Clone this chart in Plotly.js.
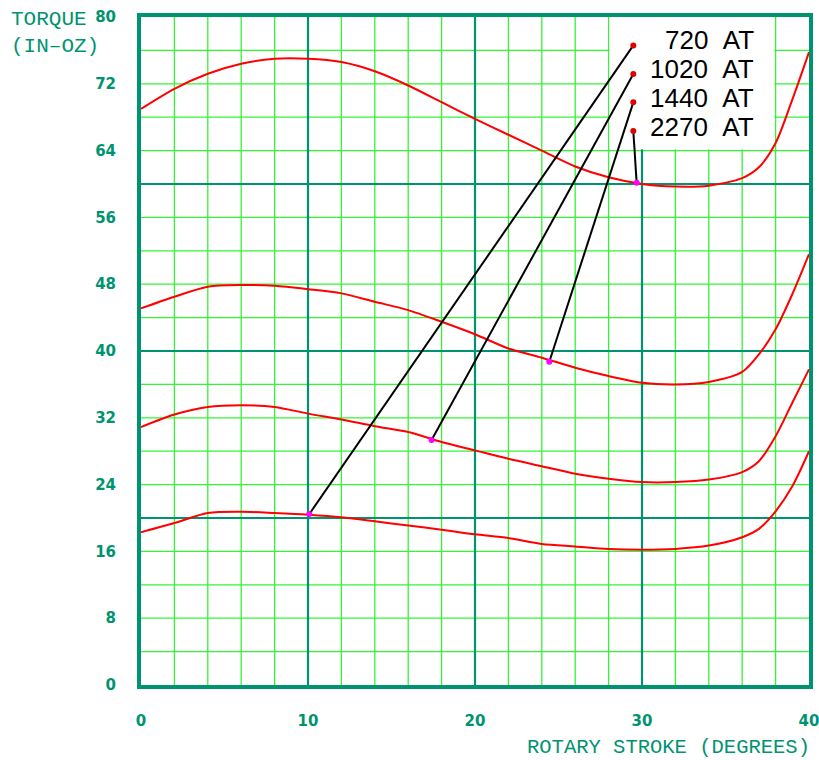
<!DOCTYPE html>
<html>
<head>
<meta charset="utf-8">
<script src="https://cdn.plot.ly/plotly-3.0.1.min.js"></script>
<style>html,body{margin:0;padding:0;background:#fff;}#chart{width:819px;height:760px;}</style>
</head>
<body>
<div id="chart"></div>
<script>
// Rotary stroke (degrees)
const stroke = [0,2,4,6,8,10,12,14,16,18,20,22,24,26,28,30,32,34,36,37,38,39,40];
// Torque (in-oz) for each ampere-turn rating
const torque2270 = [69.0,71.4,73.2,74.4,75.0,75.0,74.6,73.5,71.8,69.8,67.8,65.9,64.0,62.1,60.8,60.0,59.7,59.8,60.7,62.0,64.9,70.1,75.8];
const torque1440 = [45.1,46.5,47.7,47.9,47.8,47.4,46.9,45.9,44.9,43.5,42.0,40.3,39.2,38.0,37.0,36.2,36.0,36.3,37.5,39.6,42.6,46.8,51.6];
const torque1020 = [30.9,32.4,33.3,33.5,33.3,32.5,31.8,31.0,30.3,29.1,28.1,27.1,26.2,25.3,24.7,24.3,24.3,24.6,25.5,26.8,29.8,33.8,37.8];
const torque720  = [18.3,19.4,20.6,20.75,20.6,20.4,20.1,19.6,19.1,18.6,18.05,17.6,16.9,16.6,16.3,16.2,16.3,16.7,17.7,18.7,20.8,23.8,28.0];

// Legend labels and leader lines
const labels = ["720&nbsp;&nbsp;AT", "1020&nbsp;&nbsp;AT", "1440&nbsp;&nbsp;AT", "2270&nbsp;&nbsp;AT"];
const labelTextY = [77.25, 73.8, 70.35, 66.85];
const leaderStartX = [29.48, 29.48, 29.48, 29.48];
const leaderStartY = [76.6, 73.17, 69.78, 66.35];
const leaderEndX = [10.08, 17.4, 24.45, 29.68];
const leaderEndY = [20.48, 29.34, 38.72, 60.16];

const xTicks = [0,10,20,30,40];
const yTicks = [0,8,16,24,32,40,48,56,64,72,80];

const TEAL = '#00936f';
const GREEN = '#33f533';

const traces = [];
[torque720, torque1020, torque1440, torque2270].forEach(s => {
  traces.push({x: stroke, y: s, mode: 'lines', type: 'scatter',
    line: {color: '#ff0000', width: 2, shape: 'spline', smoothing: 0.8},
    hoverinfo: 'skip', showlegend: false});
});
for (let i = 0; i < labels.length; i++) {
  traces.push({x: [leaderStartX[i], leaderEndX[i]], y: [leaderStartY[i], leaderEndY[i]],
    mode: 'lines', type: 'scatter', line: {color: '#000', width: 2},
    hoverinfo: 'skip', showlegend: false});
}
traces.push({x: leaderStartX, y: leaderStartY, mode: 'markers', type: 'scatter',
  marker: {color: '#e00000', size: 6}, hoverinfo: 'skip', showlegend: false});
traces.push({x: leaderEndX, y: leaderEndY, mode: 'markers', type: 'scatter',
  marker: {color: '#ff00ff', size: 6}, hoverinfo: 'skip', showlegend: false});

const shapes = [];
for (let gx = 2; gx < 40; gx += 2) {
  if (gx % 10 === 0) continue;
  shapes.push({type: 'line', xref: 'x', yref: 'y', x0: gx, x1: gx, y0: 0, y1: 80,
    line: {color: GREEN, width: 1.3}, layer: 'below'});
}
for (let gy = 4; gy < 80; gy += 4) {
  if (gy % 20 === 0) continue;
  shapes.push({type: 'line', xref: 'x', yref: 'y', x0: 0, x1: 40, y0: gy, y1: gy,
    line: {color: GREEN, width: 1.3}, layer: 'below'});
}
[10,20,30].forEach(gx => shapes.push({type: 'line', xref: 'x', yref: 'y', x0: gx, x1: gx, y0: 0, y1: 80,
  line: {color: TEAL, width: 2.2}, layer: 'below'}));
[20,40,60].forEach(gy => shapes.push({type: 'line', xref: 'x', yref: 'y', x0: 0, x1: 40, y0: gy, y1: gy,
  line: {color: TEAL, width: 2.2}, layer: 'below'}));
// white label box
shapes.push({type: 'rect', xref: 'x', yref: 'y', x0: 28.06, x1: 37.93, y0: 64.15, y1: 80,
  fillcolor: '#ffffff', line: {width: 0}, layer: 'below'});

const annotations = labels.map((t, i) => ({
  xref: 'x', yref: 'y', x: 36.85, y: labelTextY[i], xanchor: 'right', yanchor: 'middle',
  text: t, showarrow: false, font: {family: 'Liberation Sans, Arial, sans-serif', size: 26, color: '#000'}
}));
annotations.push({xref: 'paper', yref: 'paper', x: -0.197, y: 1.016, xanchor: 'left', yanchor: 'top',
  text: 'TORQUE<br>(IN–OZ)', align: 'left', showarrow: false,
  font: {family: 'Liberation Mono, DejaVu Sans Mono, monospace', size: 21, color: TEAL}});
annotations.push({xref: 'paper', yref: 'paper', x: 1.005, y: -0.093, xanchor: 'right', yanchor: 'middle',
  text: 'ROTARY STROKE (DEGREES)', showarrow: false,
  font: {family: 'Liberation Mono, DejaVu Sans Mono, monospace', size: 20.5, color: TEAL}});

const tickFont = {family: 'DejaVu Sans, sans-serif', size: 15, color: TEAL, weight: 'bold'};
const layout = {
  width: 819, height: 760,
  margin: {l: 141, r: 10, t: 17, b: 75, pad: 0},
  paper_bgcolor: '#fff', plot_bgcolor: '#fff',
  showlegend: false,
  xaxis: {range: [0, 40], tickmode: 'array', tickvals: xTicks, ticktext: xTicks.map(String),
    showgrid: false, zeroline: false, showline: true, mirror: true, linecolor: TEAL, linewidth: 4,
    ticks: '', ticklabelstandoff: 19, ticklabeloverflow: 'allow', tickfont: tickFont, fixedrange: true},
  yaxis: {range: [0, 80], tickmode: 'array', tickvals: yTicks, ticktext: yTicks.map(String),
    showgrid: false, zeroline: false, showline: true, mirror: true, linecolor: TEAL, linewidth: 4,
    ticks: '', ticklabelstandoff: 18, ticklabeloverflow: 'allow', tickfont: tickFont, fixedrange: true},
  shapes: shapes,
  annotations: annotations
};

Plotly.newPlot('chart', traces, layout, {staticPlot: true, displayModeBar: false});
</script>
</body>
</html>
